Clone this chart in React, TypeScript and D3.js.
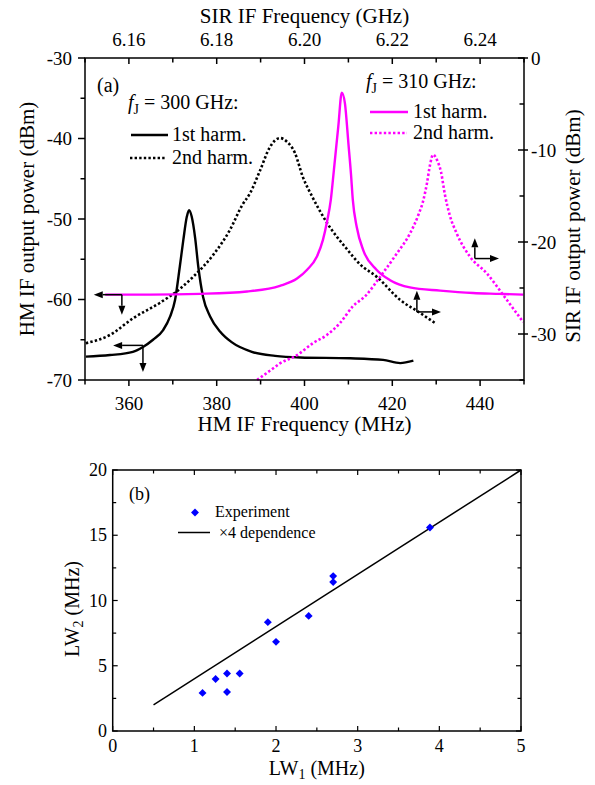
import React from "react";
import * as d3 from "d3";

const W = 595;
const H = 785;
const FONT = "'Liberation Serif', 'DejaVu Serif', 'Times New Roman', serif";
const MAG = "#ff00ff";

// ---------- Panel (a) data ----------
// HM IF frequency (MHz) / HM IF output power (dBm): 1st harmonic, fJ = 300 GHz
const h300Freq = [350.2, 355.7, 360.9, 363.2, 365.5, 367.8, 369.4, 370.5, 371.6, 372.4, 373.2, 373.7, 374.3, 375.1, 375.8, 376.9, 378.5, 380.8, 383.4, 388.0, 393.3, 399.0, 410.4, 417.9, 421.8, 424.8];
const h300Pow = [-67.1, -66.9, -66.5, -65.9, -65.0, -63.8, -62.1, -60.1, -55.9, -52.6, -49.7, -48.9, -49.7, -52.4, -55.9, -59.7, -62.1, -64.0, -65.3, -66.5, -67.0, -67.2, -67.3, -67.5, -67.9, -67.6];
// 1st harmonic, fJ = 310 GHz
const h310Freq = [354.6, 364.8, 376.2, 386.9, 394.4, 398.3, 400.6, 402.8, 404.2, 405.1, 406.0, 406.7, 407.7, 408.5, 409.2, 410.0, 410.6, 411.0, 411.9, 413.4, 416.4, 419.5, 424.0, 430.9, 438.4, 444.5, 449.8];
const h310Pow = [-59.4, -59.4, -59.3, -59.0, -58.3, -57.4, -56.3, -54.7, -52.6, -50.4, -47.6, -43.9, -38.5, -34.3, -35.6, -40.6, -44.5, -47.6, -51.0, -53.9, -56.3, -57.6, -58.5, -58.9, -59.2, -59.3, -59.4];
// SIR IF frequency (GHz) / SIR IF output power (dBm): 2nd harmonic, fJ = 300 GHz
const s300Freq = [6.1502, 6.1557, 6.1609, 6.1671, 6.1716, 6.1746, 6.1792, 6.183, 6.1858, 6.1876, 6.1899, 6.1921, 6.1944, 6.196, 6.1978, 6.1996, 6.2019, 6.2051, 6.2097, 6.2126, 6.2165, 6.2218, 6.2263, 6.2297];
const s300Pow = [-31.0, -30.1, -28.3, -26.6, -25.1, -23.8, -21.4, -18.7, -16.0, -14.7, -12.2, -9.7, -8.7, -9.1, -10.3, -12.9, -15.2, -17.9, -20.8, -22.4, -23.8, -26.3, -27.7, -28.8];
// 2nd harmonic, fJ = 310 GHz
const s310Freq = [6.1892, 6.1921, 6.1944, 6.1983, 6.2019, 6.2051, 6.2081, 6.211, 6.214, 6.2172, 6.2211, 6.224, 6.2259, 6.2271, 6.2279, 6.2286, 6.2293, 6.2302, 6.2311, 6.232, 6.2331, 6.2347, 6.2377, 6.2415, 6.2461, 6.2498];
const s310Pow = [-35.0, -34.0, -33.2, -32.3, -31.0, -30.1, -28.8, -27.0, -25.8, -23.8, -21.2, -19.1, -17.1, -15.4, -13.6, -11.6, -10.5, -11.1, -12.4, -14.9, -17.1, -19.1, -21.6, -23.4, -26.3, -28.7];

const hmTicks = [360, 380, 400, 420, 440];
const hmMinor = [350, 370, 390, 410, 430, 450];
const sirTicks = [6.16, 6.18, 6.2, 6.22, 6.24];
const sirMinor = [6.15, 6.17, 6.19, 6.21, 6.23, 6.25];
const leftTicks = [-30, -40, -50, -60, -70];
const leftMinor = [-35, -45, -55, -65];
const rightTicks = [0, -10, -20, -30];
const rightMinor = [-5, -15, -25, -35];

// ---------- Panel (b) data ----------
const lw1 = [1.1, 1.26, 1.4, 1.4, 1.555, 1.9, 2.0, 2.4, 2.7, 2.7, 3.885];
const lw2 = [2.92, 3.98, 4.41, 2.99, 4.41, 8.34, 6.83, 8.82, 11.87, 11.41, 15.6];
const fitLw1 = [0.5, 5];
const fitLw2 = [2, 20];
const bxTicks = [0, 1, 2, 3, 4, 5];
const bxMinor = [0.5, 1.5, 2.5, 3.5, 4.5];
const byTicks = [0, 5, 10, 15, 20];
const byMinor = [2.5, 7.5, 12.5, 17.5];

function Arrow({ x1, y1, x2, y2 }: { x1: number; y1: number; x2: number; y2: number }) {
  const ang = Math.atan2(y2 - y1, x2 - x1);
  const L = 9, Wd = 3.5;
  const bx = x2 - L * Math.cos(ang), by = y2 - L * Math.sin(ang);
  const px = -Math.sin(ang) * Wd, py = Math.cos(ang) * Wd;
  return (
    <g>
      <line x1={x1} y1={y1} x2={bx} y2={by} stroke="#000" strokeWidth={1.5} />
      <path d={`M${x2},${y2}L${bx + px},${by + py}L${bx - px},${by - py}Z`} fill="#000" />
    </g>
  );
}

export default function App() {
  // Panel (a) scales
  const ax = d3.scaleLinear().domain([350, 450]).range([85, 524]);
  const axTop = d3.scaleLinear().domain([6.15, 6.25]).range([85, 524]);
  const ayL = d3.scaleLinear().domain([-70, -30]).range([380, 58]);
  const ayR = d3.scaleLinear().domain([-35, 0]).range([380, 58]);

  const lineBL = d3.line<[number, number]>().x((d) => ax(d[0])).y((d) => ayL(d[1])).curve(d3.curveMonotoneX);
  const lineTR = d3.line<[number, number]>().x((d) => axTop(d[0])).y((d) => ayR(d[1])).curve(d3.curveMonotoneX);
  const zip = (a: number[], b: number[]) => a.map((v, i) => [v, b[i]] as [number, number]);

  // Panel (b) scales
  const bx = d3.scaleLinear().domain([0, 5]).range([112.7, 521]);
  const by = d3.scaleLinear().domain([0, 20]).range([731, 470]);
  const fitLine = d3.line<[number, number]>().x((d) => bx(d[0])).y((d) => by(d[1]));
  const diamond = d3.symbol().type(d3.symbolDiamond2).size(40)();

  const [aL, aR, aT, aB] = [ax(350), ax(450), ayL(-30), ayL(-70)];
  const [bL, bR, bT, bB] = [bx(0), bx(5), by(20), by(0)];

  const tickFs = 19;
  const titleFs = 21;
  const ff = { fontFamily: FONT };

  return (
    <svg width={W} height={H} style={{ position: "absolute", left: 0, top: 0, background: "#fff", fontFamily: FONT }}>
      <rect width={W} height={H} fill="#fff" />
      {/* ================= Panel (a) ================= */}
      <g style={ff}>
        {/* curves */}
        <path d={lineBL(zip(h300Freq, h300Pow)) || ""} fill="none" stroke="#000" strokeWidth={2.4} />
        <path d={lineTR(zip(s300Freq, s300Pow)) || ""} fill="none" stroke="#000" strokeWidth={2.6} strokeDasharray="2.4 2.2" />
        <path d={lineBL(zip(h310Freq, h310Pow)) || ""} fill="none" stroke={MAG} strokeWidth={2.4} />
        <path d={lineTR(zip(s310Freq, s310Pow)) || ""} fill="none" stroke={MAG} strokeWidth={2.6} strokeDasharray="2.4 2.2" />

        {/* arrows (anchored in data coordinates) */}
        <Arrow x1={ax(358.4)} y1={ayL(-59.4)} x2={ax(352.0)} y2={ayL(-59.4)} />
        <Arrow x1={ax(358.4)} y1={ayL(-59.4)} x2={ax(358.4)} y2={ayL(-61.9)} />
        <Arrow x1={ax(363.2)} y1={ayL(-65.7)} x2={ax(356.4)} y2={ayL(-65.7)} />
        <Arrow x1={ax(363.2)} y1={ayL(-65.7)} x2={ax(363.2)} y2={ayL(-69.0)} />
        <Arrow x1={axTop(6.2256)} y1={ayR(-27.6)} x2={axTop(6.2256)} y2={ayR(-25.3)} />
        <Arrow x1={axTop(6.2256)} y1={ayR(-27.6)} x2={axTop(6.2311)} y2={ayR(-27.6)} />
        <Arrow x1={axTop(6.2388)} y1={ayR(-21.8)} x2={axTop(6.2388)} y2={ayR(-19.6)} />
        <Arrow x1={axTop(6.2388)} y1={ayR(-21.8)} x2={axTop(6.2443)} y2={ayR(-21.8)} />

        {/* frame */}
        <rect x={aL} y={aT} width={aR - aL} height={aB - aT} fill="none" stroke="#000" strokeWidth={1.5} />

        {/* left axis ticks (outward) */}
        {leftTicks.map((v) => (
          <g key={"lt" + v}>
            <line x1={aL - 7} x2={aL} y1={ayL(v)} y2={ayL(v)} stroke="#000" strokeWidth={1.5} />
            <text x={aL - 13} y={ayL(v)} textAnchor="end" dominantBaseline="central" fontSize={tickFs} style={ff}>{v}</text>
          </g>
        ))}
        {leftMinor.map((v) => (
          <line key={"lm" + v} x1={aL - 4.5} x2={aL} y1={ayL(v)} y2={ayL(v)} stroke="#000" strokeWidth={1.5} />
        ))}
        {/* right axis ticks */}
        {rightTicks.map((v) => (
          <g key={"rt" + v}>
            <line x1={aR - 6} x2={aR + 4} y1={ayR(v)} y2={ayR(v)} stroke="#000" strokeWidth={1.5} />
            <text x={aR + 7} y={ayR(v)} textAnchor="start" dominantBaseline="central" fontSize={tickFs} style={ff}>{v}</text>
          </g>
        ))}
        {rightMinor.map((v) => (
          <line key={"rm" + v} x1={aR - 4.5} x2={aR} y1={ayR(v)} y2={ayR(v)} stroke="#000" strokeWidth={1.5} />
        ))}
        {/* bottom axis ticks (outward) */}
        {hmTicks.map((v) => (
          <g key={"bt" + v}>
            <line x1={ax(v)} x2={ax(v)} y1={aB} y2={aB + 6} stroke="#000" strokeWidth={1.5} />
            <text x={ax(v)} y={409.5} textAnchor="middle" fontSize={tickFs} style={ff}>{v}</text>
          </g>
        ))}
        {hmMinor.map((v) => (
          <line key={"bm" + v} x1={ax(v)} x2={ax(v)} y1={aB} y2={aB + 4.5} stroke="#000" strokeWidth={1.5} />
        ))}
        {/* top axis ticks (inward) */}
        {sirTicks.map((v) => (
          <g key={"tt" + v}>
            <line x1={axTop(v)} x2={axTop(v)} y1={aT} y2={aT + 6} stroke="#000" strokeWidth={1.5} />
            <text x={axTop(v)} y={45.5} textAnchor="middle" fontSize={tickFs} style={ff}>{v.toFixed(2)}</text>
          </g>
        ))}
        {sirMinor.map((v) => (
          <line key={"tm" + v} x1={axTop(v)} x2={axTop(v)} y1={aT} y2={aT + 4.5} stroke="#000" strokeWidth={1.5} />
        ))}

        {/* axis titles */}
        <text x={(aL + aR) / 2} y={22.5} textAnchor="middle" fontSize={titleFs} style={ff}>SIR IF Frequency (GHz)</text>
        <text x={(aL + aR) / 2} y={431} textAnchor="middle" fontSize={titleFs} style={ff}>HM IF Frequency (MHz)</text>
        <text transform="translate(34,219) rotate(-90)" textAnchor="middle" fontSize={titleFs} style={ff}>HM IF output power (dBm)</text>
        <text transform="translate(580,226) rotate(-90)" textAnchor="middle" fontSize={titleFs} style={ff}>SIR IF output power (dBm)</text>

        {/* annotations */}
        <text x={97} y={92} fontSize={20} style={ff}>(a)</text>
        <text x={128} y={109} fontSize={20} style={ff}>
          <tspan fontStyle="italic">f</tspan>
          <tspan dy={5} fontSize={14}>J</tspan>
          <tspan dy={-5}> = 300 GHz:</tspan>
        </text>
        <line x1={131} x2={168} y1={135} y2={135} stroke="#000" strokeWidth={2.4} />
        <text x={172} y={141} fontSize={20} style={ff}>1st harm.</text>
        <line x1={130} x2={166} y1={158} y2={158} stroke="#000" strokeWidth={2.6} strokeDasharray="2.4 2.2" />
        <text x={172} y={164} fontSize={20} style={ff}>2nd harm.</text>

        <text x={366} y={88} fontSize={20} style={ff}>
          <tspan fontStyle="italic">f</tspan>
          <tspan dy={5} fontSize={14}>J</tspan>
          <tspan dy={-5}> = 310 GHz:</tspan>
        </text>
        <line x1={370} x2={408} y1={112} y2={112} stroke={MAG} strokeWidth={2.4} />
        <text x={413} y={118} fontSize={20} style={ff}>1st harm.</text>
        <line x1={370} x2={407} y1={133} y2={133} stroke={MAG} strokeWidth={2.6} strokeDasharray="2.4 2.2" />
        <text x={413} y={139} fontSize={20} style={ff}>2nd harm.</text>
      </g>

      {/* ================= Panel (b) ================= */}
      <g style={ff}>
        <path d={fitLine(zip(fitLw1, fitLw2)) || ""} fill="none" stroke="#000" strokeWidth={1.5} />
        {lw1.map((v, i) => (
          <path key={"p" + i} d={diamond || ""} transform={`translate(${bx(v)},${by(lw2[i])})`} fill="#0000ff" />
        ))}
        <rect x={bL} y={bT} width={bR - bL} height={bB - bT} fill="none" stroke="#000" strokeWidth={1.5} />
        {bxTicks.map((v) => (
          <g key={"bxt" + v}>
            <line x1={bx(v)} x2={bx(v)} y1={bB} y2={bB - 5} stroke="#000" strokeWidth={1.2} />
            <line x1={bx(v)} x2={bx(v)} y1={bT} y2={bT + 5} stroke="#000" strokeWidth={1.2} />
            <text x={bx(v)} y={752} textAnchor="middle" fontSize={18} style={ff}>{v}</text>
          </g>
        ))}
        {bxMinor.map((v) => (
          <g key={"bxm" + v}>
            <line x1={bx(v)} x2={bx(v)} y1={bB} y2={bB - 3.5} stroke="#000" strokeWidth={1.2} />
            <line x1={bx(v)} x2={bx(v)} y1={bT} y2={bT + 3.5} stroke="#000" strokeWidth={1.2} />
          </g>
        ))}
        {byTicks.map((v) => (
          <g key={"byt" + v}>
            <line x1={bL} x2={bL + 5} y1={by(v)} y2={by(v)} stroke="#000" strokeWidth={1.2} />
            <line x1={bR} x2={bR - 5} y1={by(v)} y2={by(v)} stroke="#000" strokeWidth={1.2} />
            <text x={107} y={by(v)} textAnchor="end" dominantBaseline="central" fontSize={18} style={ff}>{v}</text>
          </g>
        ))}
        {byMinor.map((v) => (
          <g key={"bym" + v}>
            <line x1={bL} x2={bL + 3.5} y1={by(v)} y2={by(v)} stroke="#000" strokeWidth={1.2} />
            <line x1={bR} x2={bR - 3.5} y1={by(v)} y2={by(v)} stroke="#000" strokeWidth={1.2} />
          </g>
        ))}
        <text x={129} y={500} fontSize={18} style={ff}>(b)</text>
        <path d={diamond || ""} transform="translate(195,512.5)" fill="#0000ff" />
        <text x={215} y={517} fontSize={16} style={ff}>Experiment</text>
        <line x1={178} x2={210} y1={532.5} y2={532.5} stroke="#000" strokeWidth={1.5} />
        <text x={219} y={538} fontSize={16} style={ff}>×4 dependence</text>

        <text x={(bL + bR) / 2} y={775} textAnchor="middle" fontSize={20} style={ff}>
          LW<tspan dy={4} fontSize={14}>1</tspan>
          <tspan dy={-4}> (MHz)</tspan>
        </text>
        <text transform="translate(79,609) rotate(-90)" textAnchor="middle" fontSize={20} style={ff}>
          LW<tspan dy={4} fontSize={14}>2</tspan>
          <tspan dy={-4}> (MHz)</tspan>
        </text>
      </g>
    </svg>
  );
}
